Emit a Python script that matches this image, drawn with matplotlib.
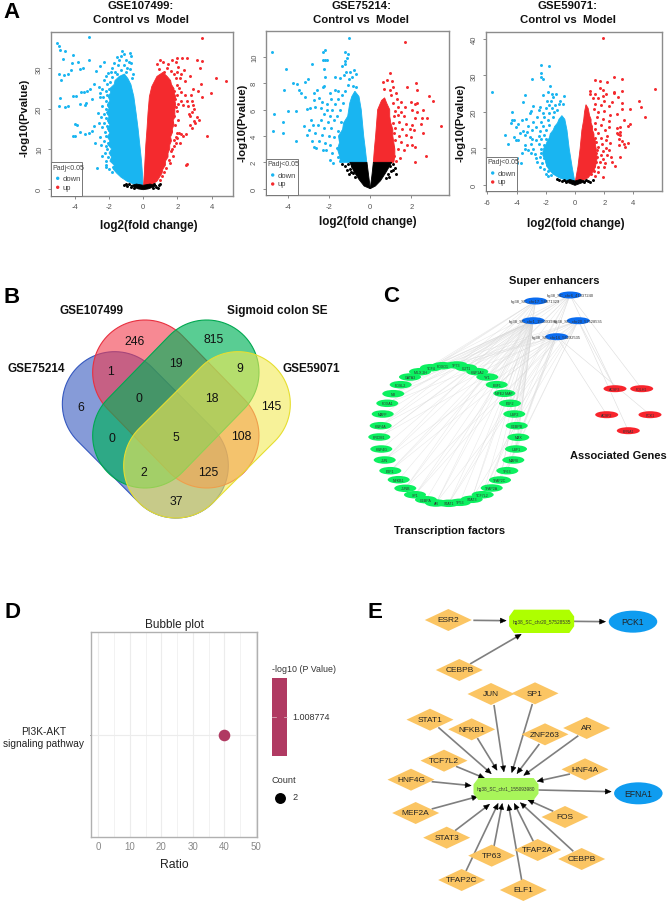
import numpy as np
import matplotlib
matplotlib.use('Agg')
import matplotlib.pyplot as plt
from matplotlib.patches import Polygon, Ellipse, Rectangle

plt.rcParams['font.family'] = ['Liberation Sans', 'DejaVu Sans']
plt.rcParams['axes.unicode_minus'] = False

W, H = 671, 904
BLUE, RED = '#19b5f1', '#f42a2e'

# ---------- A: volcano envelopes of the dense clouds and individually read points ----------
t1, t2, t3 = 'GSE107499:', 'GSE75214:', 'GSE59071:'
cloud1_down = [(-0.02,1),(-0.5,1.2),(-0.95,2),(-1.3,3),(-1.55,4),(-1.75,5),(-1.7,6),(-1.95,7),(-1.85,8),(-2.0,9),(-1.85,10),(-2.05,11),(-1.95,12),(-2.1,13),(-1.95,14),(-2.1,15),(-1.95,16),(-2.1,17),(-2.0,18),(-2.15,19),(-2.0,20),(-2.1,21),(-1.95,22),(-2.05,23),(-1.9,24),(-1.95,25),(-1.7,26),(-1.65,27),(-1.4,28),(-1.1,28.6),(-0.9,27.5),(-0.72,26),(-0.55,23),(-0.42,19),(-0.3,15),(-0.2,11),(-0.1,7),(-0.03,3)]
cloud1_up = [(0.02,1),(0.5,1.2),(0.8,2),(0.95,3),(1.1,4),(1.15,5),(1.3,6),(1.3,7),(1.45,8),(1.45,9),(1.55,10),(1.55,11),(1.65,12),(1.6,13),(1.7,14),(1.7,15),(1.8,16),(1.75,17),(1.85,18),(1.85,20),(1.9,21),(1.85,22),(1.9,23),(1.8,24),(1.8,25),(1.65,26),(1.6,27),(1.4,28),(1.15,29),(0.8,28),(0.5,25.5),(0.36,23),(0.28,19),(0.22,15),(0.15,11),(0.1,7),(0.05,3)]
cloud1_ns = [(-0.75,0.9),(-0.4,1.3),(0,1.0),(0.4,1.3),(0.8,0.9),(0.3,0.1),(0,-0.1),(-0.3,0.1)]
pts1_down = [(-5.05,36.2),(-4.9,35.5),(-4.85,34.6),(-4.6,34.3),(-4.7,32.4),(-4.1,33.2),(-4.15,31.3),(-4.2,29.5),(-3.8,31.5),(-3.2,37.8),(-3.2,32),(-3.5,30.2),(-3.7,29.8),(-4.9,28.6),(-4.65,28.4),(-4.4,28.5),(-4.8,27.2),(-4.85,22.7),(-4.1,23.2),(-3.95,23.2),(-3.65,24.1),(-3.45,24.2),(-3.3,24.5),(-3.1,25),(-4.6,20.3),(-4.9,20.6),(-4.4,20.7),(-3.7,21.1),(-3.4,20.8),(-3.35,21.3),(-3.0,22.3),(-2.9,26.1),(-2.75,29.3),(-2.5,30.5),(-2.3,31.5),(-4.0,16.2),(-3.9,16),(-4.1,13.1),(-4.0,13.1),(-3.7,14.1),(-3.4,13.6),(-3.2,14),(-3,14.5),(-2.9,15.6),(-2.8,11.5),(-2.7,5.4),(-2.2,5.5),
(-2.6,25.3),(-2.55,24),(-2.5,22.8),(-2.65,19),(-2.45,18),(-2.6,16.5),(-2.4,15.5),(-2.5,13),(-2.3,12),(-2.45,11),(-2.25,9),(-2.4,8.3),(-2.2,7),(-2.15,6),(-2,5),(-1.8,4.4),(-1.75,5.6),(-2.05,8),(-2.1,10),(-2.2,10.8),(-2.05,11.5),(-2.15,13.3),(-2.25,14.2),(-2.0,14.6),(-2.1,15.7),(-2.3,16.5),(-2.0,16.7),(-2.15,17.7),(-2.3,18.6),(-2.05,19),(-2.2,20),(-2.4,20.7),(-2.05,21),(-2.2,22),(-2.35,23),(-2.1,23.3),(-2.2,24.3),(-2.4,25),(-2.0,24.8),(-2.1,26),(-2.3,27),(-1.95,26.6),(-2.2,28.2),(-2.05,28.9),(-1.8,27.8),(-1.9,29),(-1.65,29.2),(-1.85,30.2),(-1.55,28.5),(-1.5,30.8),(-1.7,31.3),(-1.4,32.2),(-1.55,32.7),(-1.3,33.1),(-1.25,34.2),(-1.1,33.6),(-1.0,32),(-0.75,33.8),(-0.7,33),(-0.85,31.5),(-0.7,31.3),(-1.15,30.8),(-0.95,30),(-0.75,29.8),(-1.3,29.5),(-0.6,28.5),(-1.0,29),(-0.65,27.5)]
pts1_up = [(3.45,37.6),(4.85,26.9),(4.25,27.7),(3.35,26),(3.95,23.8),(3.45,22.9),(3.7,13.2),(3.15,32),(3.45,31.8),(3.3,30),(2.55,32.6),(2.0,32.6),(2.25,32.5),(1.7,32.2),(1.0,32),(1.15,31.7),(1.45,31.2),(1.9,31.5),(2.05,30.3),(2.4,29.7),(2.0,29.1),(1.4,30),(0.8,31),(0.95,29.8),(1.2,29),(1.6,29.3),(1.8,28.5),(2.2,28.5),(2.75,28),(1.9,27.5),(2.15,27.5),(2.45,26.9),(3.2,24.5),(2.9,24.8),(2.8,23.5),(2.2,24.1),(2.45,23.5),(1.95,25.8),(2.1,25.2),(1.8,24.5),(1.95,23.3),(2.2,22),(2.55,22),(2.85,22),(2.9,21),(2.35,20.9),(2.05,21.2),(1.85,22.3),(2.6,20.7),(2.95,20),(2.85,19.2),(2.65,18.6),(2.75,18.2),(3.15,18),(3.25,17.3),(3.05,16.4),(2.85,15.3),(2.75,16),(2.95,17),
(2.1,14),(2.2,13.7),(2.0,14),(2.3,13.3),(2.5,13.8),(2.0,12.7),(1.9,11.4),(2.15,11.6),(1.8,10.8),(1.65,9.5),(1.75,8.3),(1.5,7.3),(1.35,5.4),(1.2,4.4),(1.1,3.3),(1.0,2.2),(2.55,6.2),(2.5,6.1),(1.55,6.5),(1.7,10),(1.9,13),(1.85,16),(2.05,17.2),(1.8,18.2),(2.0,19.4),(1.75,20),(1.9,20.5),(1.8,12.2),(1.65,14.5),(1.7,16.8)]
pts1_ns = [(-1.15,1),(-0.95,0.7),(-0.85,1.4),(-0.7,0.5),(-1.0,1.2),(0.9,1.0),(0.75,0.5),(1.0,1.3),(0.6,1.4),(0.85,0.3),(-0.55,0.4),(0.55,0.3)]

cloud2_down = [(-1.45,2),(-1.5,2.5),(-1.6,3),(-1.5,3.5),(-1.55,4),(-1.35,4.5),(-1.3,5),(-1.1,5.5),(-1.05,6),(-1.0,6.5),(-0.9,7),(-0.75,7.4),(-0.55,7),(-0.44,6),(-0.32,4),(-0.24,3),(-0.17,2)]
cloud2_up = [(1.15,2),(1.2,2.5),(1.2,3),(1.15,3.5),(1.1,4),(1.1,4.5),(1.0,5),(0.95,5.5),(0.95,6),(0.8,6.5),(0.7,6.9),(0.55,6.7),(0.36,6),(0.26,4),(0.2,3),(0.15,2)]
cloud2_nsL = [(-1.0,2),(-0.8,1.3),(-0.55,0.7),(-0.3,0.2),(0,0),(-0.03,0.4),(-0.08,1),(-0.16,2)]
cloud2_nsR = [(1.05,2),(0.75,1.2),(0.5,0.6),(0.25,0.2),(0,0),(0.03,0.4),(0.08,1),(0.15,2)]
pts2_down = [(-1.05,11.45),(-4.8,10.35),(-2.3,10.4),(-2.2,10.5),(-1.25,10.4),(-1.1,10.2),(-1.15,9.9),(-1.25,9.7),(-1.25,9.5),(-2.3,9.8),(-2.2,9.75),(-2.1,9.75),(-2.85,9.5),(-1.4,9.3),(-4.1,9.1),(-2.25,9.1),(-0.8,9.0),(-1.0,8.85),(-1.2,8.85),(-0.7,8.7),(-0.9,8.5),(-1.3,8.6),(-2.2,8.45),(-1.7,8.5),(-1.5,8.4),(-1.05,8.3),(-3.05,8.3),(-3.2,8.1),(-3.75,8.05),(-3.55,7.95),(-2.25,7.8),(-1.1,7.9),(-0.85,7.8),(-0.7,7.75),(-4.2,7.5),(-3.5,7.5),(-2.6,7.5),(-2.3,7.7),(-1.7,7.5),(-1.55,7.4),(-3.4,7.25),(-2.75,7.3),(-1.95,7.3),(-1.25,7.4),(-1.4,7.1),(-3.2,6.95),(-2.5,6.9),(-1.9,6.8),(-1.55,6.8),(-2.75,6.7),(-2.35,6.55),(-2.1,6.45),(-1.7,6.4),(-1.35,6.5),(-2.95,6.1),(-3.1,6.05),(-2.7,6.2),(-2.4,6.15),(-2.1,6.0),(-1.85,6.0),(-1.5,6.0),(-4.0,5.9),(-3.6,5.9),(-4.7,5.7),(-2.25,5.7),(-1.95,5.5),(-1.6,5.5),(-2.9,5.2),(-2.4,5.2),(-2.05,5.1),(-1.75,5.2),(-1.45,5.1),(-4.25,5.1),(-2.8,4.8),(-2.55,4.8),(-2.25,4.6),(-1.9,4.6),(-1.55,4.4),(-3.25,4.75),(-3.0,4.45),(-4.75,4.35),(-4.25,4.25),(-3.1,4.1),(-2.7,4.2),(-2.35,4.1),(-2.0,4.0),(-1.75,3.9),(-1.5,3.7),(-3.6,3.6),(-2.85,3.6),(-2.5,3.6),(-2.2,3.5),(-1.95,3.3),(-1.6,3.1),(-2.75,3.2),(-2.65,3.1),(-2.3,2.9),(-2.15,2.95),(-1.85,2.7),(-1.55,2.4),(-1.95,2.15),(-1.8,1.95),(-1.5,2.1)]
pts2_up = [(1.7,11.1),(0.95,8.75),(0.8,8.25),(1.05,8.2),(0.6,8.1),(2.25,8.0),(1.1,7.75),(1.8,7.7),(0.65,7.55),(0.95,7.5),(2.3,7.5),(1.25,7.3),(2.85,7.0),(1.0,7.1),(1.3,6.8),(3.05,6.65),(1.5,6.6),(2.0,6.6),(2.3,6.5),(2.2,6.4),(1.1,6.5),(1.35,6.2),(1.7,6.2),(2.05,6.0),(2.55,6.0),(1.2,5.9),(1.5,5.8),(2.3,5.85),(1.15,5.5),(1.35,5.6),(1.65,5.5),(2.2,5.4),(2.5,5.4),(2.75,5.4),(3.45,4.75),(1.1,5.0),(1.4,5.1),(1.75,4.9),(2.05,4.8),(2.45,4.9),(1.2,4.6),(1.55,4.5),(1.95,4.5),(2.15,4.45),(2.55,4.2),(1.15,4.2),(1.4,4.0),(1.75,4.05),(2.0,3.9),(1.2,3.7),(1.5,3.55),(1.8,3.3),(2.05,3.35),(2.2,3.2),(1.1,3.2),(1.35,3.0),(1.65,2.9),(2.7,2.45),(1.15,2.5),(1.45,2.3),(1.25,2.1),(2.2,2.05)]
pts2_ns = [(-1.4,1.9),(-1.25,1.7),(-1.1,1.85),(-1.0,1.5),(-0.9,1.7),(-1.15,1.4),(-0.85,1.2),(-0.95,1.25),(-0.75,0.9),(-0.7,1.5),(-1.05,1.1),(1.25,1.1),(1.2,1.6),(1.1,1.9),(1.0,1.35),(0.95,1.7),(0.85,1.1),(0.9,0.85),(0.75,0.8),(1.1,1.45)]

cloud3_down = [(-0.02,1),(-0.55,1.2),(-1.1,2),(-1.5,3),(-1.75,4),(-1.9,5),(-2.0,6),(-2.05,7),(-2.2,8),(-2.2,9),(-2.15,10),(-2.0,11),(-1.9,12),(-1.75,13),(-1.7,14),(-1.5,15),(-1.4,16),(-1.2,17),(-1.1,18),(-0.9,19),(-0.7,18),(-0.55,15),(-0.4,10),(-0.2,5)]
cloud3_up = [(0.02,1),(0.5,1.2),(0.9,2),(1.1,3),(1.3,4),(1.4,5),(1.45,6),(1.5,7),(1.5,8),(1.45,9),(1.45,10),(1.4,11),(1.4,12),(1.3,13),(1.3,14),(1.2,15),(1.2,16),(1.1,17),(1.1,18),(1.0,19),(0.95,20),(0.9,21),(0.75,22),(0.65,20),(0.6,18),(0.47,15),(0.35,10),(0.2,5)]
cloud3_ns = [(-0.7,1.0),(-0.35,1.5),(0,1.1),(0.35,1.5),(0.75,1.0),(0.2,0.2),(0,-0.1),(-0.2,0.2)]
pts3_down = [(-5.7,25.4),(-2.35,33),(-1.8,32.6),(-2.3,30.6),(-2.3,29.5),(-2.2,29.1),(-2.95,29),(-1.7,27.2),(-1.85,25.5),(-1.6,25),(-1.3,25),(-1.5,24.2),(-2.2,24.7),(-0.75,24.4),(-3.45,24.7),(-3.55,22.7),(-1.95,23),(-1.65,23),(-1.05,23),(-1.1,22.3),(-0.85,22.3),(-2.9,21.7),(-2.4,21.4),(-1.75,22),(-1.4,21.8),(-3.0,20.3),(-2.45,20.5),(-2.0,21),(-1.6,21),(-1.25,20.6),(-4.3,20),(-3.1,19.8),(-2.2,19.6),(-1.8,19.8),(-1.45,19.9),(-4.3,17.7),(-4.2,17.7),(-2.1,18.6),(-2.6,18.5),(-3.35,18.2),(-3.6,17.8),(-4.4,17),(-3.9,16.6),(-2.9,17.2),(-2.35,17.3),(-1.85,17.8),(-1.5,18.6),(-4.05,16),(-3.2,16.2),(-2.7,16.0),(-2.2,16.2),(-1.8,16.3),(-3.55,14.8),(-3.75,14.3),(-3.3,14.5),(-2.95,15),(-2.4,14.8),(-2.0,15),(-4.8,13.8),(-4.2,13.2),(-3.4,13.6),(-3.1,13.2),(-2.5,13.5),(-2.1,13.8),(-4.05,12.3),(-3.9,12.4),(-2.95,12.5),(-2.7,12.4),(-2.3,12.5),(-2.0,12.7),(-4.6,11.2),(-3.4,11),(-3.0,11.2),(-2.5,11.2),(-2.15,11),(-3.4,9.9),(-3.2,9.5),(-2.9,9.8),(-2.3,9.8),(-2.0,9.4),(-3.6,8.9),(-3.05,8.9),(-2.75,8.5),(-2.3,8.7),(-4,7.4),(-4.3,7.5),(-2.7,7.4),(-2.4,7.6),(-2.1,7.3),(-4.0,6.1),(-3.7,6),(-2.6,6.2),(-2.25,6.1),(-1.95,5.4),(-2.4,4.8),(-2.15,4.5),(-1.85,3.8),(-2.0,3.0),(-1.65,2.8),(-1.4,3.2),(-1.85,2.5)]
pts3_up = [(1.95,40.2),(2.65,29.6),(3.25,29.1),(1.35,28.7),(1.7,28.6),(2.2,28.1),(5.5,26.3),(1.7,26.6),(1.9,26.1),(3.2,25.8),(2.65,25.5),(2.7,25.2),(1.0,25.8),(1.05,25),(1.4,24.8),(2.1,25),(1.9,24.5),(2.95,24),(1.2,23.9),(1.55,23.7),(2.0,23),(4.35,23),(2.55,22.7),(3.2,22.4),(1.4,22.2),(1.8,22),(2.35,21.6),(4.55,21.3),(3.8,20.9),(3.2,20.7),(1.3,20.7),(1.6,20),(2.4,19.3),(2.0,20.2),(2.9,19.5),(4.8,18.5),(1.5,18.6),(1.9,18),(2.3,17.6),(3.35,17.8),(1.35,17),(1.8,16.4),(3.8,16.6),(3.65,16.2),(3.1,16),(2.9,15.7),(2.35,15.9),(1.4,15.3),(2.05,15.1),(3.05,14.6),(2.9,14.2),(1.55,14.2),(2.2,13.5),(2.95,13.9),(3.1,13.8),(1.4,13),(1.75,13),(2.1,12.2),(3.0,12.7),(3.2,12),(1.45,11.9),(1.85,11.2),(2.4,11.4),(3.65,11.6),(3.35,11.2),(3.0,11.0),(1.6,10.5),(2.1,10.2),(3.4,10.3),(1.5,9.6),(1.9,9.4),(2.3,9.6),(1.45,8.7),(1.75,8.2),(2.2,8.3),(3.1,7.7),(1.5,7.6),(1.95,7.2),(2.45,7.6),(1.45,6.3),(1.7,6.4),(2.05,5.9),(2.5,6.4),(2.75,5.2),(1.3,5.3),(1.6,5),(2.0,5),(1.3,3.8),(1.55,3.5),(1.95,2.2),(1.1,2.9),(1.35,2.5)]
pts3_ns = [(-1.1,1.4),(-0.9,1.0),(-0.75,1.5),(-0.6,0.7),(0.9,1.2),(0.75,1.5),(1.0,0.9),(0.6,0.7),(-1.25,1.7),(1.2,1.3)]

panels = [
    dict(title=t1, box=(50.7,32.7,232.7,196.7), xlim=(-5.41,5.23), ylim=(-1.59,39.1),
         xt=[-4,-2,0,2,4], yt=[0,10,20,30], clouds=[(cloud1_down,BLUE),(cloud1_up,RED),(cloud1_ns,'k')],
         pts=[(pts1_down,BLUE),(pts1_up,RED),(pts1_ns,'k')], tx=141, xl=(148.5,225.5), yl=(24.5,118), leg=(50.7,163.3,82.3,196.7)),
    dict(title=t2, box=(265.7,32.3,449,196), xlim=(-5.10,3.84), ylim=(-0.48,11.95),
         xt=[-4,-2,0,2], yt=[0,2,4,6,8,10], clouds=[(cloud2_down,BLUE),(cloud2_up,RED),(cloud2_nsL,'k'),(cloud2_nsR,'k')],
         pts=[(pts2_down,BLUE),(pts2_up,RED),(pts2_ns,'k')], tx=361, xl=(367.5,222.5), yl=(243,123), leg=(265.7,160,297.7,196)),
    dict(title=t3, box=(485.7,33,662.3,192), xlim=(-6.12,5.98), ylim=(-1.64,41.9),
         xt=[-6,-4,-2,0,2,4], yt=[0,10,20,30,40], clouds=[(cloud3_down,BLUE),(cloud3_up,RED),(cloud3_ns,'k')],
         pts=[(pts3_down,BLUE),(pts3_up,RED),(pts3_ns,'k')], tx=568, xl=(576,224.5), yl=(460,123), leg=(485.7,158,516.7,192)),
]

fig = plt.figure(figsize=(W/100, H/100), dpi=100, facecolor='white')

def pix_axes(x0, y0, x1, y1, **kw):
    return fig.add_axes([x0/W, 1-y1/H, (x1-x0)/W, (y1-y0)/H], **kw)

ov = fig.add_axes([0, 0, 1, 1], zorder=5)
ov.set_xlim(0, W); ov.set_ylim(H, 0); ov.axis('off'); ov.patch.set_alpha(0)

for p in panels:
    ax = pix_axes(*p['box'])
    ax.set_xlim(*p['xlim']); ax.set_ylim(*p['ylim'])
    for poly, c in p['clouds']:
        ax.add_patch(Polygon(poly, closed=True, fc=c, ec=c, lw=0.6))
    for pts, c in p['pts']:
        a = np.array(pts)
        ax.scatter(a[:,0], a[:,1], s=4.6, c=c, lw=0, zorder=3)
    ax.set_xticks(p['xt']); ax.set_yticks(p['yt'])
    ax.tick_params(length=2.5, width=0.6, color='#777777', labelsize=5.5, labelcolor='#555555', pad=3)
    plt.setp(ax.get_yticklabels(), rotation=90, va='center')
    for s in ax.spines.values():
        s.set_color('#8c8c8c'); s.set_linewidth(1.0)
    ov.text(p['tx'], 6, p['title'], ha='center', va='center', fontsize=8.2, fontweight='bold', color='#111111')
    ov.text(p['tx'], 20, 'Control vs  Model', ha='center', va='center', fontsize=8.2, fontweight='bold', color='#111111')
    ov.text(p['xl'][0], p['xl'][1], 'log2(fold change)', ha='center', va='center', fontsize=8.4, fontweight='bold', color='#111111')
    ov.text(p['yl'][0], p['yl'][1], '-log10(Pvalue)', ha='center', va='center', rotation=90, fontsize=8.2, fontweight='bold', color='#111111')
    lx0, ly0, lx1, ly1 = p['leg']
    ov.add_patch(Rectangle((lx0, ly0), lx1-lx0, ly1-ly0, fc='white', ec='#777777', lw=0.7))
    ov.text(lx0+1.5, ly0+5, 'Padj<0.05', fontsize=5, color='#444444', va='center')
    ov.scatter([lx0+7, lx0+7], [ly0+16, ly0+25], s=6, c=[BLUE, RED], lw=0)
    ov.text(lx0+12, ly0+16, 'down', fontsize=5.5, color='#444444', va='center')
    ov.text(lx0+12, ly0+25, 'up', fontsize=5.5, color='#444444', va='center')

for s, x, y in [('A',12,13),('B',12,298),('C',391,297),('D',12,613),('E',375,613)]:
    ov.text(x, y, s, ha='center', va='center', fontsize=16, fontweight='bold', color='k')

# ---------- B: Venn ----------
def zb(x, y):
    return x/3, y/3+255

def stadium(c1, c2, r):
    c1, c2 = np.array(c1, float), np.array(c2, float)
    ang = np.arctan2(*(c2-c1)[::-1])
    t1_ = np.linspace(ang+np.pi/2, ang+3*np.pi/2, 50)
    t2_ = np.linspace(ang-np.pi/2, ang+np.pi/2, 50)
    a = np.c_[c1[0]+r*np.cos(t1_), c1[1]+r*np.sin(t1_)]
    b = np.c_[c2[0]+r*np.cos(t2_), c2[1]+r*np.sin(t2_)]
    return np.vstack([a, b])

venn_shapes = [
    ((344,450),(528,635),'#3558bf','#3558bf',0.6),
    ((435,355),(620,545),'#f23a4c','#e8303f',0.6),
    ((620,355),(435,545),'#00b25a','#00a850',0.65),
    ((714,450),(528,635),'#f3ea55','#e6de30',0.6),
]
for c1, c2, fc, ec, al in venn_shapes:
    v = stadium(zb(*c1), zb(*c2), 157/3)
    ov.add_patch(Polygon(v, closed=True, fc=matplotlib.colors.to_rgba(fc, al), ec=ec, lw=0.8))

venn_counts = [('246',405,260),('815',642,256),('1',331,350),('19',528,327),('9',718,343),('0',416,432),('18',635,433),
               ('6',242,458),('145',813,456),('0',335,553),('5',528,548),('108',723,547),('2',430,654),('125',624,653),('37',528,742)]
for s, x, y in venn_counts:
    px, py = zb(x, y)
    ov.text(px, py, s, ha='center', va='center', fontsize=8.8, color='#111111')
venn_names = [('GSE107499',275,167),('Sigmoid colon SE',832,167),('GSE75214',110,343),('GSE59071',935,343)]
for s, x, y in venn_names:
    px, py = zb(x, y)
    ov.text(px, py, s, ha='center', va='center', fontsize=8.5, fontweight='bold', color='#111111')

# ---------- C: network ----------
tf_nodes = [('FOSL2',400.7,385.7),('GATA3',410,378),('MLX 2H',420,372.7),('TCF4',431,368.7),('FOXO1',442.7,366.7),('TP73',456.7,366),
            ('CUT1',466,368.7),('HNF1A2',477.3,372.7),('YY1',487.3,378),('EBF1',496.7,385.7),('NFE2 MAF',504.3,394.3),('E2F2',510,404.3),
            ('USP2',514.3,415),('CEBPB',516.7,426.7),('MAX',518.3,438.3),('USF1',516,450),('MAFB',513.3,461),('TP63',507.3,471.7),
            ('TFAP2C',500,481),('TFAP2A',491.7,489),('TCF7L2',482.7,495.7),('STAT3',471.7,500.3),('TP53',460,503.3),('STAT1',448.7,504.3),
            ('AR',436,504),('CEBPA',426,500.7),('SP1',415,495.7),('JUNB',405.3,489.3),('NFKB1',398.7,480.7),('E2F1',390.3,471.7),
            ('JUN',384.7,461),('HNF4G',381.3,450),('PRDM1',379.3,438),('HNF4A',380.7,426.7),('MAFF',382.7,415),('FOXA1',387.3,404.3),('NR',393.3,394.7)]
se_nodes = [('hg38_SC_chr17_54871329',535.7,302),('hg38_SC_chr6_41337240',570,296),('hg38_SC_chr1_155093980',533.3,321.7),
            ('hg38_SC_chr20_57528535',578.3,321.7),('hg38_SC_chr16_56292535',556.7,337.7)]
gene_nodes = [('ACSF3',615,389.7),('FOLH1',641.7,389.7),('ACSF2',606.7,415.7),('PCK1',650,415.7),('EFNA1',628.3,431.7)]
gene_links = [(1,0),(1,1),(4,2),(4,3),(3,4),(3,0)]

for i, (_, tx, ty) in enumerate(tf_nodes):
    for j, (_, sx, sy) in enumerate(se_nodes):
        if (i + j) % 3 == 0 or j == 2:
            ov.plot([tx, sx], [ty, sy], color='#d6d6d6', lw=0.3, alpha=0.7, zorder=1)
for j, k in gene_links:
    ov.plot([se_nodes[j][1], gene_nodes[k][1]], [se_nodes[j][2], gene_nodes[k][2]], color='#dcdcdc', lw=0.4, zorder=1)

def nodes(lst, color, w=23, h=7, fs=2.6):
    for s, x, y in lst:
        ov.add_patch(Ellipse((x, y), w, h, fc=color, ec='none', zorder=2))
        ov.text(x, y, s, ha='center', va='center', fontsize=fs, color='#333333', zorder=3)
nodes(tf_nodes, '#0cf060', w=22, h=7.5)
nodes(se_nodes, '#0a6cf0', w=23, h=7, fs=2.9)
nodes(gene_nodes, '#f8242c', w=23, h=7)
ov.text(554.3, 280.7, 'Super enhancers', ha='center', va='center', fontsize=8, fontweight='bold', color='#111111')
ov.text(618.3, 456, 'Associated Genes', ha='center', va='center', fontsize=8, fontweight='bold', color='#111111')
ov.text(449.5, 531, 'Transcription factors', ha='center', va='center', fontsize=8, fontweight='bold', color='#111111')

# ---------- D: bubble ----------
pathway = ['PI3K-AKT\nsignaling pathway']
ratio = [40]
neglogp = [1.008774]
count_val = [2]
BUB = '#b03a62'
bx = pix_axes(91, 633.3, 257, 838.3)
bx.set_xlim(-2.3, 50.3); bx.set_ylim(-0.5, 0.5)
bx.set_xticks([0,10,20,30,40,50]); bx.set_xticks([5,15,25,35,45], minor=True)
bx.set_yticks([0]); bx.set_yticklabels(pathway, fontsize=7.3, color='#222222', linespacing=1.3, ma='center')
bx.grid(True, which='major', color='#ececec', lw=0.8); bx.grid(True, which='minor', axis='x', color='#f0f0f0', lw=0.6)
bx.set_axisbelow(True)
bx.scatter(ratio, [0], s=70, color=BUB, lw=0, zorder=3)
bx.tick_params(axis='x', which='both', length=0, labelsize=7, labelcolor='#888888', pad=3)
bx.tick_params(axis='y', length=1, width=0.5, pad=4)
for s in bx.spines.values():
    s.set_color('#b0b0b0'); s.set_linewidth(1.0)
bx.set_title('Bubble plot', fontsize=8.5, color='#222222', pad=4)
bx.set_xlabel('Ratio', fontsize=8.8, color='#222222', labelpad=5)
ov.text(272, 670, '-log10 (P Value)', fontsize=6.4, va='center', color='#333333')
ov.add_patch(Rectangle((272, 679.3), 15.3, 77.4, fc=BUB, ec='none'))
ov.plot([272,276],[717.5,717.5], color='#e8c4d0', lw=0.5); ov.plot([283.5,287.3],[717.5,717.5], color='#e8c4d0', lw=0.5)
ov.text(292.5, 718, f'{neglogp[0]:.6f}', fontsize=6.5, va='center', color='#333333')
ov.text(272, 781, 'Count', fontsize=6.6, va='center', color='#333333')
ov.scatter([280], [798.5], s=62, c='k', lw=0)
ov.text(292, 798, str(count_val[0]), fontsize=6.6, va='center', color='#333333')

# ---------- E: network ----------
def ze(x, y):
    return x/3+370, y/3+590

e_tf = [('ESR2',235,93),('CEBPB',268,243),('JUN',363,315),('SP1',495,313),('STAT1',180,392),('NFKB1',305,421),('ZNF263',525,436),
        ('AR',650,417),('TCF7L2',222,515),('HNF4A',645,541),('HNF4G',123,572),('MEF2A',137,672),('FOS',585,684),('STAT3',230,746),
        ('TP63',365,800),('TFAP2A',503,783),('CEBPB',635,810),('TFAP2C',275,873),('ELF1',460,903)]
e_edges = [((310,94),(410,95)),((300,225),(455,135)),((610,97),(708,98)),((372,348),(402,550)),((487,345),(425,552)),((205,415),(365,555)),
           ((322,447),(382,545)),((508,465),(440,555)),((625,440),(460,560)),((258,532),(345,568)),((600,555),(500,577)),((185,578),(305,590)),
           ((185,660),(325,622)),((550,667),(472,632)),((255,725),(360,645)),((372,772),(397,642)),((490,757),(432,642)),((610,787),(450,640)),
           ((288,846),(385,642)),((455,873),(415,645)),((505,603),(725,608))]
for a, b in e_edges:
    a, b = np.array(ze(*a)), np.array(ze(*b))
    u = (b-a)/np.hypot(*(b-a))
    ov.plot([a[0], b[0]-u[0]*5], [a[1], b[1]-u[1]*5], color='#7f7f7f', lw=1.2, zorder=1, solid_capstyle='butt')
    ov.annotate('', xy=b, xytext=b-u*7, zorder=2,
                arrowprops=dict(arrowstyle='-|>,head_length=0.45,head_width=0.2', fc='k', ec='k', lw=0.4, shrinkA=0, shrinkB=0, mutation_scale=9))
for s, x, y in e_tf:
    cx, cy = ze(x, y)
    ov.add_patch(Polygon([(cx-23.5,cy),(cx,cy-11),(cx+23.5,cy),(cx,cy+11)], closed=True, fc='#fbc563', ec='none', zorder=3))
    ov.text(cx, cy, s, ha='center', va='center', fontsize=6, color='#222222', zorder=4)

def octagon(x, y, w, h, c, s):
    cx, cy = ze(x, y); w, h = w/3/2, h/3/2
    d = w*0.15
    v = [(cx-w+d,cy-h),(cx+w-d,cy-h),(cx+w,cy-h*0.42),(cx+w,cy+h*0.42),(cx+w-d,cy+h),(cx-w+d,cy+h),(cx-w,cy+h*0.42),(cx-w,cy-h*0.42)]
    ov.add_patch(Polygon(v, closed=True, fc=c, ec='none', zorder=3))
    ov.text(cx, cy, s, ha='center', va='center', fontsize=3.4, color='#333333', zorder=4)
octagon(515, 97, 195, 70, '#aeff00', 'hg38_SC_chr20_57528535')
octagon(408, 600, 195, 66, '#a8f55a', 'hg38_SC_chr1_155093980')
for s, x, y in [('PCK1',789,98),('EFNA1',805,613)]:
    cx, cy = ze(x, y)
    ov.add_patch(Ellipse((cx, cy), 48.5, 22, fc='#0f9cf0', ec='none', zorder=3))
    ov.text(cx, cy, s, ha='center', va='center', fontsize=6.2, color='#222222', zorder=4)

fig.savefig('out.png', dpi=100, facecolor='white')
